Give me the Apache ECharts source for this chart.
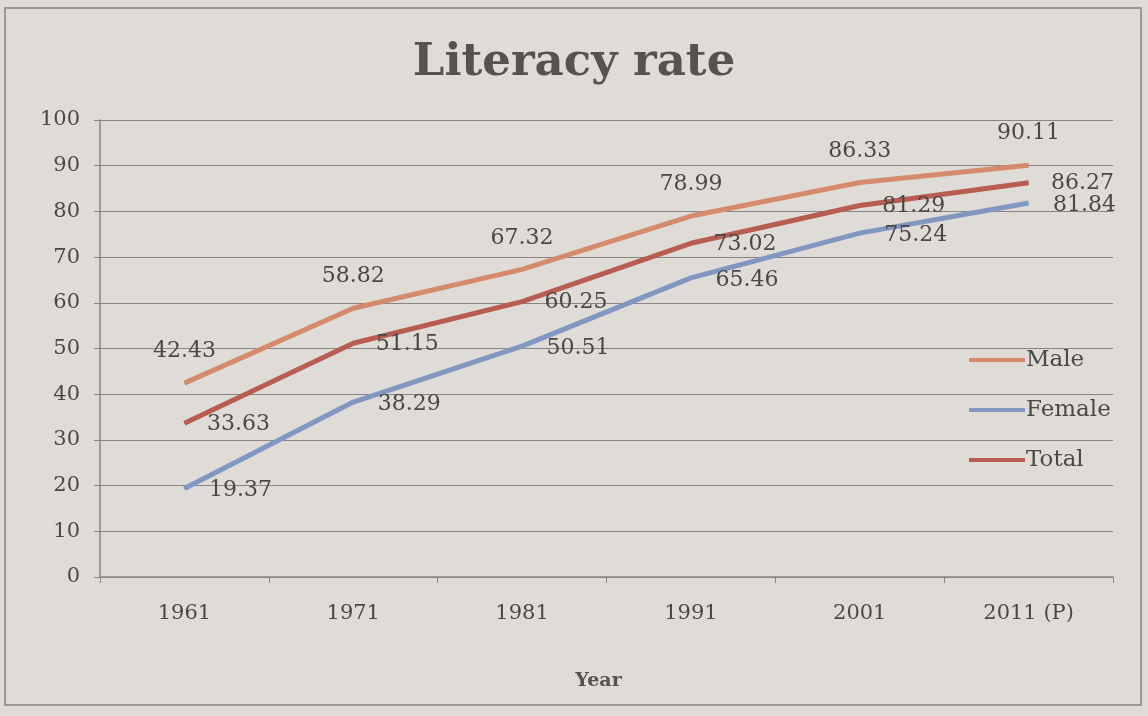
<!DOCTYPE html>
<html>
<head>
<meta charset="utf-8">
<script src="https://cdn.jsdelivr.net/npm/echarts@6/dist/echarts.min.js"></script>
<style>
  html, body { margin: 0; padding: 0; background: #dfdcd8; }
  #chart { width: 1148px; height: 716px; }
</style>
</head>
<body>
<div id="chart"></div>
<script>
const years = ['1961', '1971', '1981', '1991', '2001', '2011 (P)'];
const male = [42.43, 58.82, 67.32, 78.99, 86.33, 90.11];
const female = [19.37, 38.29, 50.51, 65.46, 75.24, 81.84];
const total = [33.63, 51.15, 60.25, 73.02, 81.29, 86.27];

const serif = '"DejaVu Serif", "Liberation Serif", serif';
const textColor = '#4a4846';

const chart = echarts.init(document.getElementById('chart'));

const labelStyle = {
  show: true,
  fontFamily: serif,
  fontSize: 22,
  color: textColor
};

const option = {
  backgroundColor: '#dfdcd8',
  animation: false,
  title: {
    text: 'Literacy rate',
    left: 'center',
    top: 36,
    textStyle: { fontFamily: serif, fontSize: 45, fontWeight: 'bold', color: '#555250' }
  },
  graphic: [{
    type: 'rect',
    shape: { x: 5, y: 8, width: 1136, height: 697 },
    style: { fill: 'none', stroke: '#9a9794', lineWidth: 2 },
    silent: true
  }],
  legend: {
    orient: 'vertical',
    left: 964,
    top: 343,
    icon: 'rect',
    itemWidth: 56,
    itemHeight: 4,
    itemGap: 26,
    textStyle: { fontFamily: serif, fontSize: 23, lineHeight: 24, color: textColor, padding: [0, 0, 0, -4] },
    data: ['Male', 'Female', 'Total']
  },
  grid: { left: 100, right: 35, top: 120, bottom: 139 },
  xAxis: {
    type: 'category',
    data: years,
    name: 'Year',
    nameLocation: 'middle',
    nameGap: 95,
    nameTextStyle: { fontFamily: serif, fontSize: 19, fontWeight: 'bold', color: '#555250', padding: [0, 16, 0, 0] },
    axisLine: { lineStyle: { color: '#8a8685', width: 1.5 } },
    axisTick: { show: true, length: 6, lineStyle: { color: '#8a8685' } },
    axisLabel: { margin: 26, fontFamily: serif, fontSize: 21, color: textColor }
  },
  yAxis: {
    type: 'value',
    min: 0,
    max: 100,
    interval: 10,
    axisLine: { show: true, lineStyle: { color: '#8a8685', width: 1.5 } },
    axisTick: { show: true, length: 6, lineStyle: { color: '#8a8685' } },
    axisLabel: { margin: 20, fontFamily: serif, fontSize: 21, color: textColor },
    splitLine: { lineStyle: { color: '#8a8685', width: 1.2 } }
  },
  series: [
    {
      name: 'Male',
      type: 'line',
      data: male,
      symbol: 'circle',
      symbolSize: 1,
      color: '#d68a6c',
      lineStyle: { width: 5 },
      label: Object.assign({}, labelStyle, { position: 'top', distance: 20 })
    },
    {
      name: 'Female',
      type: 'line',
      data: female,
      symbol: 'circle',
      symbolSize: 1,
      color: '#8197c2',
      lineStyle: { width: 5 },
      label: Object.assign({}, labelStyle, { position: 'right', distance: 24, offset: [0, 2] })
    },
    {
      name: 'Total',
      type: 'line',
      data: total,
      symbol: 'circle',
      symbolSize: 1,
      color: '#b95d53',
      lineStyle: { width: 5 },
      label: Object.assign({}, labelStyle, { position: 'right', distance: 22, offset: [0, 1] })
    }
  ]
};

chart.setOption(option);
</script>
</body>
</html>
